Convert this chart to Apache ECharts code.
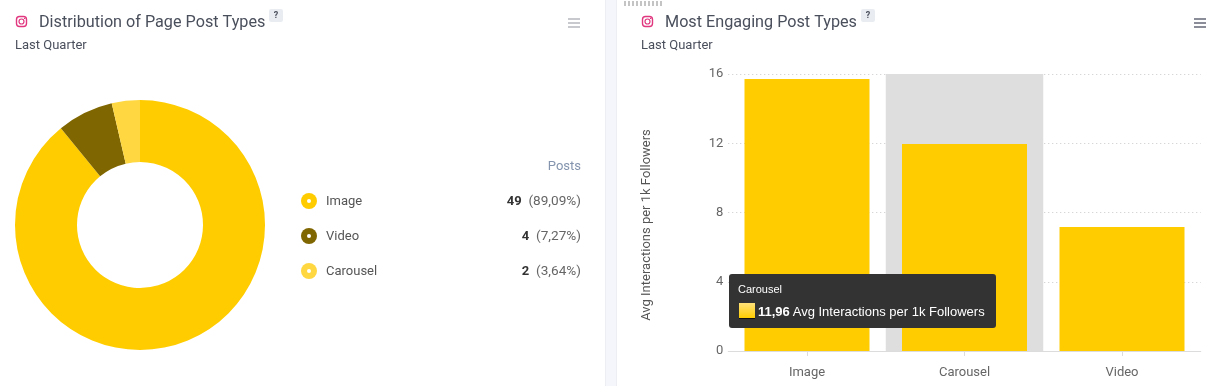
<!DOCTYPE html>
<html><head><meta charset="utf-8">
<style>html,body{margin:0;padding:0;background:#fff}#c{width:1227px;height:386px}</style>
<script src="https://cdn.jsdelivr.net/npm/echarts@6/dist/echarts.min.js"></script>
</head><body><div id="c"></div>
<script>
const postTypes = ['Image', 'Video', 'Carousel'];
const postCounts = [49, 4, 2];
const postShares = ['89,09%', '7,27%', '3,64%'];
const postColors = ['#ffcc00', '#806600', '#ffd740'];
const engageCategories = ['Image', 'Carousel', 'Video'];
const engageValues = [15.71, 11.96, 7.16];
const yTicks = [0, 4, 8, 12, 16];
const metricName = 'Avg Interactions per 1k Followers';
const leftTitle = 'Distribution of Page Post Types';
const rightTitle = 'Most Engaging Post Types';
const subtitle = 'Last Quarter';
const fontUI = 'Roboto, sans-serif';

function header(x, title, tw, burgerX, burgerColor) {
  const els = [
    {type:'rect', shape:{x:x+0.5, y:16.5, width:10, height:10, r:3}, style:{fill:'none', stroke:'#e0377f', lineWidth:1.4}},
    {type:'circle', shape:{cx:x+5.5, cy:21.5, r:2.5}, style:{fill:'none', stroke:'#e0377f', lineWidth:1.2}},
    {type:'circle', shape:{cx:x+8.6, cy:18.4, r:0.7}, style:{fill:'#e0377f'}},
    {type:'text', x:x+23, y:23, style:{text:title, font:'16.2px '+fontUI, fill:'#4a4f5c', verticalAlign:'middle'}},
    {type:'rect', shape:{x:x+23+tw+4, y:9, width:14, height:13, r:2}, style:{fill:'#e9ecf1'}},
    {type:'text', x:x+23+tw+11, y:15.5, style:{text:'?', font:'bold 9px '+fontUI, fill:'#4a4f5c', align:'center', verticalAlign:'middle'}},
    {type:'text', x:x-1, y:46, style:{text:subtitle, font:'13px '+fontUI, fill:'#4a4f5c', verticalAlign:'middle'}}
  ];
  [18, 22, 26].forEach(y => els.push({type:'rect', shape:{x:burgerX, y:y, width:12, height:2}, style:{fill:burgerColor}}));
  return els;
}

const graphics = [
  {type:'rect', z:-1, shape:{x:605, y:0, width:11, height:386}, style:{fill:'#f5f6fb'}},
  {type:'rect', z:-1, shape:{x:605, y:0, width:1, height:386}, style:{fill:'#eceef4'}},
  {type:'rect', z:-1, shape:{x:616, y:0, width:1, height:386}, style:{fill:'#eceef4'}},
  ...header(16, leftTitle, 226, 568, '#c8c9ce'),
  ...header(642, rightTitle, 192, 1194, '#8b8e98'),
  {type:'text', x:581, y:167, style:{text:'Posts', font:'13px '+fontUI, fill:'#8494ae', align:'right', verticalAlign:'middle'}},
  {type:'text', x:647, y:225, rotation:Math.PI/2, style:{text:metricName, font:'13px '+fontUI, fill:'#555', align:'center', verticalAlign:'middle'}}
];
for (let i = 0; i < 10; i++) {
  graphics.push({type:'rect', shape:{x:624+i*4, y:1, width:2, height:5}, style:{fill:'#c4c4c4'}});
}
postTypes.forEach((name, i) => {
  const y = 201 + i * 35;
  graphics.push(
    {type:'circle', shape:{cx:309, cy:y, r:8}, style:{fill:postColors[i]}},
    {type:'circle', shape:{cx:309, cy:y, r:2}, style:{fill:'#fff'}},
    {type:'text', x:326, y:y+0.5, style:{text:name, font:'13px '+fontUI, fill:'#555', verticalAlign:'middle'}},
    {type:'text', x:581, y:y+0.5, style:{
      rich:{b:{font:'bold 13px '+fontUI, fill:'#333'}, n:{font:'13.6px '+fontUI, fill:'#666'}},
      text:'{b|'+postCounts[i]+'}{n|  ('+postShares[i]+')}', align:'right', verticalAlign:'middle'}}
  );
});

const chart = echarts.init(document.getElementById('c'), null, {renderer:'canvas'});
chart.setOption({
  animation:false,
  backgroundColor:'#fff',
  graphic:{elements:graphics},
  tooltip:{
    trigger:'axis', triggerOn:'none', alwaysShowContent:true,
    axisPointer:{type:'shadow', z:1, shadowStyle:{color:'#dedede', opacity:1}},
    backgroundColor:'#333', borderWidth:0, padding:0, transitionDuration:0,
    extraCssText:'border-radius:3px;box-shadow:none;',
    position:()=>[729,274],
    formatter:(params)=>{
      const p = params[0];
      const v = p.value.toFixed(2).replace('.', ',');
      return '<div style="width:267px;height:54px;box-sizing:border-box;padding:8px 9px;color:#fff;font-family:\'Liberation Sans\',Arial,sans-serif;">'+
        '<div style="font-size:11px;line-height:14px;margin-bottom:7px;">'+p.name+'</div>'+
        '<div style="font-size:13px;line-height:17px;white-space:nowrap;">'+
        '<span style="display:inline-block;width:16px;height:16px;vertical-align:-3px;margin-left:1px;margin-right:3px;background:linear-gradient(#ffe27a,#ffcc00);border-bottom:1px solid #111;box-sizing:border-box;"></span>'+
        '<b>'+v+'</b> '+metricName+'</div></div>';
    }
  },
  grid:{left:728.25, top:74, width:472.5, height:277, containLabel:false},
  xAxis:{
    type:'category', data:engageCategories,
    axisLine:{lineStyle:{color:'#dcdcdc'}},
    axisTick:{show:true, alignWithLabel:true, interval:0, length:5, lineStyle:{color:'#dcdcdc'}},
    axisLabel:{color:'#666', fontFamily:'Roboto', fontSize:13, margin:15},
    splitLine:{show:false}
  },
  yAxis:{
    type:'value', min:yTicks[0], max:yTicks[yTicks.length-1], interval:4,
    axisLine:{show:false}, axisTick:{show:false},
    axisLabel:{color:'#666', fontFamily:'Roboto', fontSize:13, margin:5, padding:[3,0,0,0]},
    splitLine:{show:true, lineStyle:{type:[1,3], color:'#c8c8c8'}}
  },
  series:[
    {type:'pie', radius:[63,125], center:[140,225], startAngle:90, clockwise:true,
     label:{show:false}, labelLine:{show:false}, silent:true, tooltip:{show:false},
     emphasis:{disabled:true},
     data:postTypes.map((n,i)=>({name:n, value:postCounts[i], itemStyle:{color:postColors[i]}}))},
    {type:'bar', name:metricName, data:engageValues, barWidth:125, z:3, itemStyle:{color:'#ffcc00'},
     emphasis:{disabled:true}, silent:true}
  ]
});
chart.dispatchAction({type:'showTip', seriesIndex:1, dataIndex:1});
</script></body></html>
